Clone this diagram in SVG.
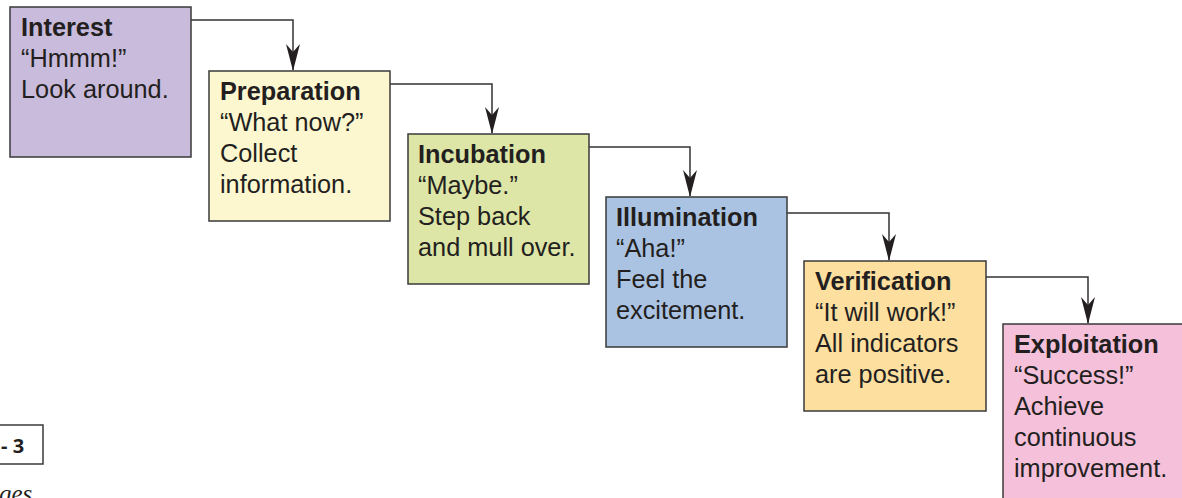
<svg xmlns="http://www.w3.org/2000/svg" width="1182" height="498" viewBox="0 0 1182 498">
  <style>
    .box { stroke: #3a3a3a; stroke-width: 1.5; }
    .t { font-family: "Liberation Sans", Arial, sans-serif; font-size: 25.3px; fill: #231f20; }
    .b { font-weight: bold; }
    .conn { fill: none; stroke: #333333; stroke-width: 1.5; }
  </style>
  <defs>
    <path id="head" d="M0,0 L-7,-27 L0,-19 L7,-27 Z" fill="#231f20"/>
  </defs>
  <rect width="1182" height="498" fill="#ffffff"/>

  <g id="connectors">
    <path class="conn" d="M191,20 H293 V70"/>
    <path class="conn" d="M390,84 H492 V133"/>
    <path class="conn" d="M589,147 H690 V196"/>
    <path class="conn" d="M787,213 H889 V260"/>
    <path class="conn" d="M986,277 H1088 V323"/>
    <use href="#head" x="293" y="71"/>
    <use href="#head" x="492" y="134"/>
    <use href="#head" x="690" y="197"/>
    <use href="#head" x="889" y="261"/>
    <use href="#head" x="1088" y="324"/>
  </g>

  <g id="interest">
    <rect class="box" x="10" y="7" width="181" height="150" fill="#c9bbdc"/>
    <text class="t b" x="21" y="36">Interest</text>
    <text class="t" x="21" y="67">“Hmmm!”</text>
    <text class="t" x="21" y="98">Look around.</text>
  </g>

  <g id="preparation">
    <rect class="box" x="209" y="71" width="181" height="150" fill="#fdf7d0"/>
    <text class="t b" x="220" y="100">Preparation</text>
    <text class="t" x="220" y="131">“What now?”</text>
    <text class="t" x="220" y="162">Collect</text>
    <text class="t" x="220" y="193">information.</text>
  </g>

  <g id="incubation">
    <rect class="box" x="408" y="134" width="181" height="150" fill="#dde6a6"/>
    <text class="t b" x="418" y="163">Incubation</text>
    <text class="t" x="418" y="194">“Maybe.”</text>
    <text class="t" x="418" y="225">Step back</text>
    <text class="t" x="418" y="256">and mull over.</text>
  </g>

  <g id="illumination">
    <rect class="box" x="606" y="197" width="181" height="150" fill="#abc3e3"/>
    <text class="t b" x="616" y="226">Illumination</text>
    <text class="t" x="616" y="257">“Aha!”</text>
    <text class="t" x="616" y="288">Feel the</text>
    <text class="t" x="616" y="319">excitement.</text>
  </g>

  <g id="verification">
    <rect class="box" x="804" y="261" width="182" height="150" fill="#fddfa0"/>
    <text class="t b" x="815" y="290">Verification</text>
    <text class="t" x="815" y="321">“It will work!”</text>
    <text class="t" x="815" y="352">All indicators</text>
    <text class="t" x="815" y="383">are positive.</text>
  </g>

  <g id="exploitation">
    <rect class="box" x="1003" y="324" width="190" height="190" fill="#f5c0d9"/>
    <text class="t b" x="1014" y="353">Exploitation</text>
    <text class="t" x="1014" y="384">“Success!”</text>
    <text class="t" x="1014" y="415">Achieve</text>
    <text class="t" x="1014" y="446">continuous</text>
    <text class="t" x="1014" y="477">improvement.</text>
  </g>

  <g id="figure-label">
    <rect x="-10" y="425" width="53" height="39" fill="#ffffff" stroke="#3a3a3a" stroke-width="1.5"/>
    <text x="1" y="453" font-family="'Open Sans', 'Liberation Sans', sans-serif" font-weight="bold" font-size="20" fill="#231f20">- 3</text>
    <text x="-1" y="502" font-family="'Liberation Serif', 'Times New Roman', serif" font-style="italic" font-size="25" fill="#231f20">ges</text>
  </g>
</svg>
